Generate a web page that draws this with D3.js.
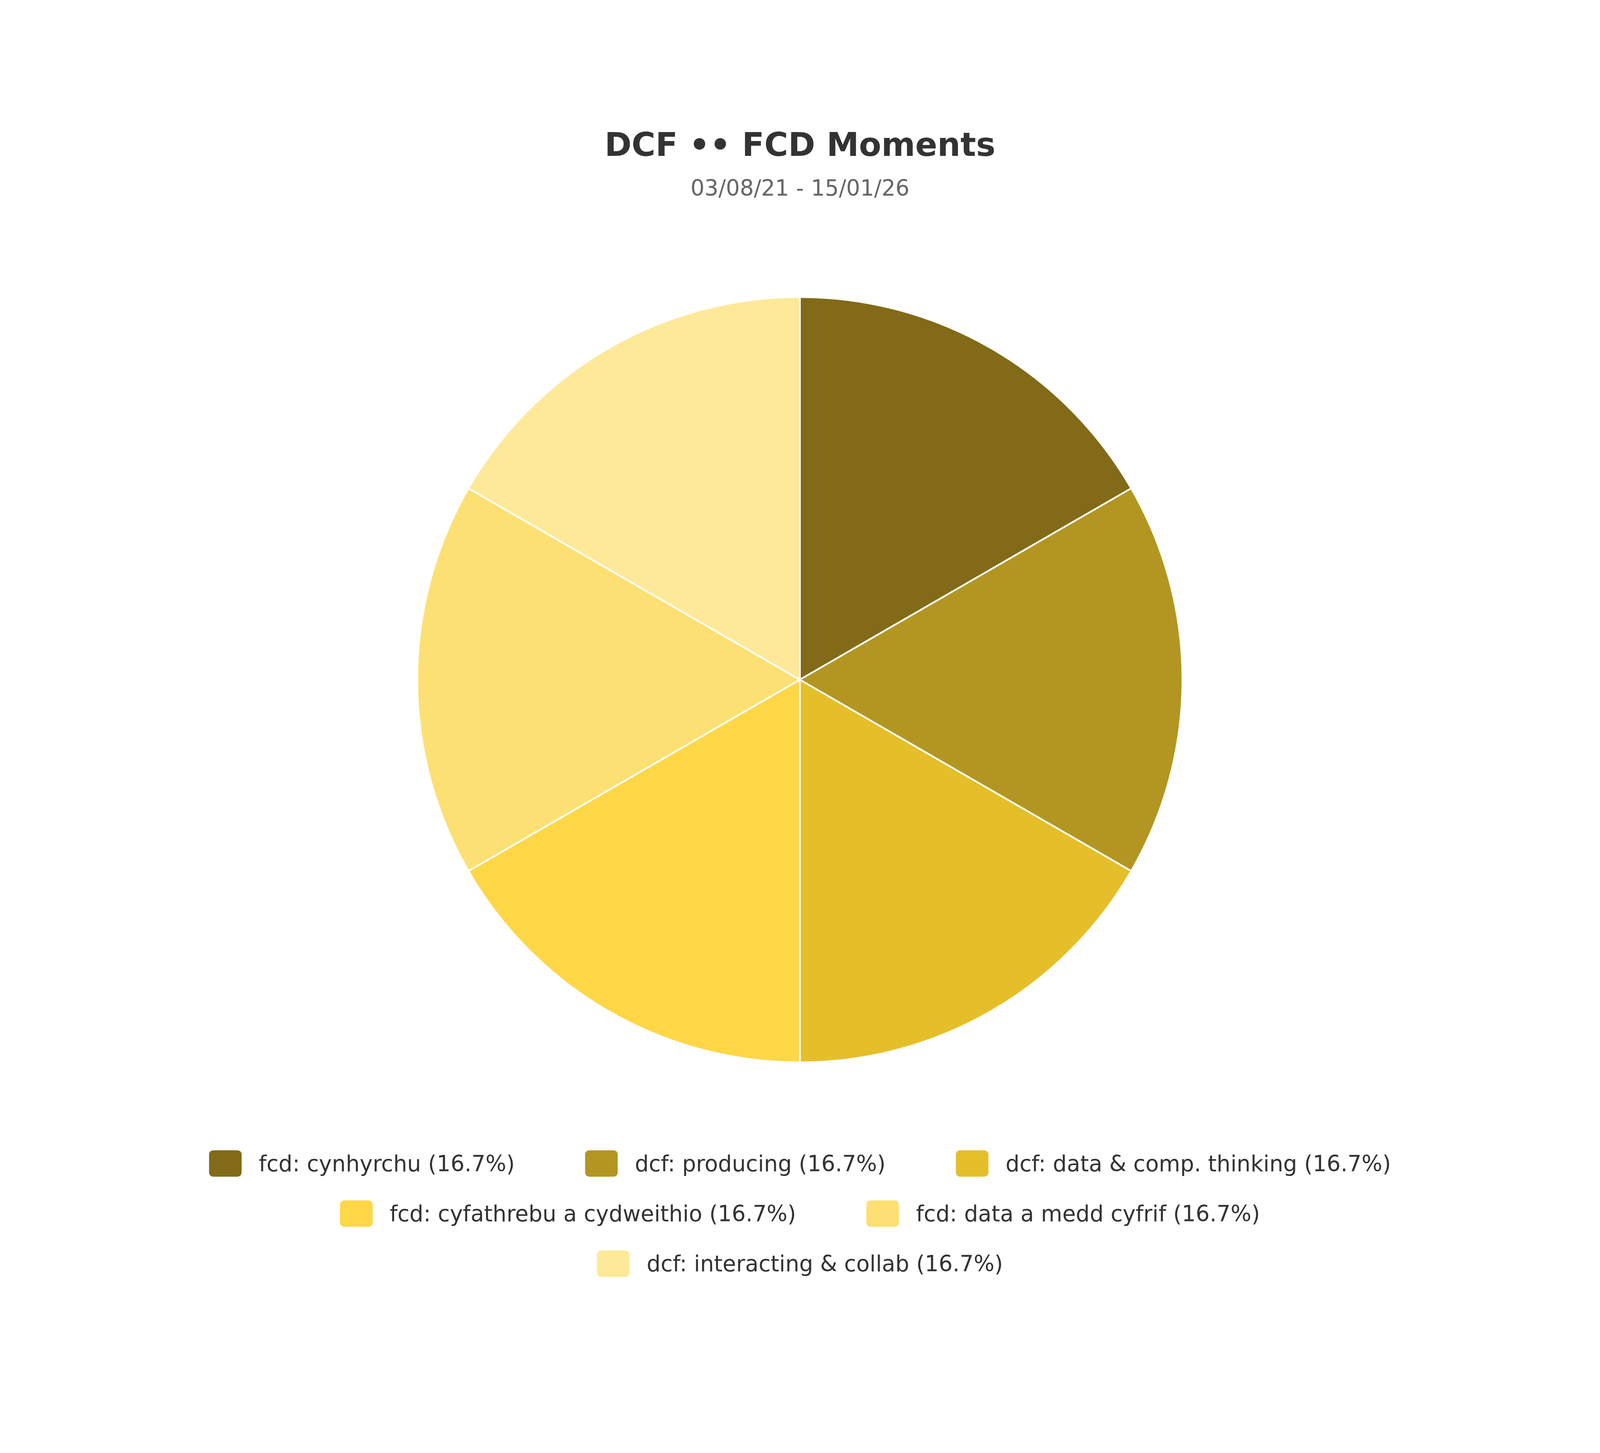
<!DOCTYPE html>
<html>
<head>
<meta charset="utf-8">
<script src="https://cdn.jsdelivr.net/npm/d3@7"></script>
<style>
  html, body { margin: 0; padding: 0; background: #fff; overflow: hidden; }
  svg { display: block; width: 100vw; height: 100vh; }
  text { font-family: "DejaVu Sans", sans-serif; }
</style>
</head>
<body>
<script>
var categories = ["fcd: cynhyrchu", "dcf: producing", "dcf: data & comp. thinking",
                  "fcd: cyfathrebu a cydweithio", "fcd: data a medd cyfrif", "dcf: interacting & collab"]
var values = [1, 1, 1, 1, 1, 1]
var colors = ["#826a18", "#b39621", "#e5bf2a", "#fdd745", "#fde073", "#fee999"]

var w = 4667,
    h = 3719,
    cx = 2333,
    cy = 1723,
    r = 1116

var svg = d3.select("body").append("svg")
    .attr("viewBox", "0 0 " + w + " " + h)
    .attr("preserveAspectRatio", "xMidYMid meet")

svg.append("text").attr("x", w / 2).attr("y", 195)
    .attr("text-anchor", "middle").attr("font-size", 95).attr("font-weight", "bold")
    .attr("fill", "#333").text("DCF •• FCD Moments")
svg.append("text").attr("x", w / 2).attr("y", 312)
    .attr("text-anchor", "middle").attr("font-size", 64)
    .attr("fill", "#666").text("03/08/21 - 15/01/26")

var total = d3.sum(values)
var pie = d3.pie().sort(null)
var arc = d3.arc().innerRadius(0).outerRadius(r)

svg.append("g").attr("transform", "translate(" + cx + "," + cy + ")")
    .selectAll("path").data(pie(values)).enter().append("path")
    .attr("d", arc)
    .attr("fill", function(d, i){ return colors[i] })
    .attr("stroke", "#fff").attr("stroke-width", 5)

// legend, wrapped into centered rows
var fs = 64, sw = 95, sh = 77, gapText = 50, gapItem = 205, maxW = 3900
var labels = categories.map(function(c, i){
    return c + " (" + (values[i] / total * 100).toFixed(1) + "%)"
})
var tmp = svg.append("text").attr("font-size", fs)
var widths = labels.map(function(l){ tmp.text(l); return tmp.node().getComputedTextLength() })
tmp.remove()

var rows = [], cur = [], curW = 0
labels.forEach(function(l, i){
    var iw = sw + gapText + widths[i]
    var add = cur.length ? gapItem + iw : iw
    if (cur.length && curW + add > maxW) { rows.push({items: cur, w: curW}); cur = []; curW = 0; add = iw }
    cur.push(i); curW += add
})
if (cur.length) rows.push({items: cur, w: curW})

var lg = svg.append("g")
rows.forEach(function(row, ri){
    var y = 3134 + ri * 146
    var x = (w - row.w) / 2
    row.items.forEach(function(i){
        lg.append("rect").attr("x", x).attr("y", y - sh / 2).attr("width", sw).attr("height", sh)
            .attr("rx", 12).attr("fill", colors[i])
        lg.append("text").attr("x", x + sw + gapText).attr("y", y).attr("dy", "0.35em")
            .attr("font-size", fs).attr("fill", "#333").text(labels[i])
        x += sw + gapText + widths[i] + gapItem
    })
})
</script>
</body>
</html>
